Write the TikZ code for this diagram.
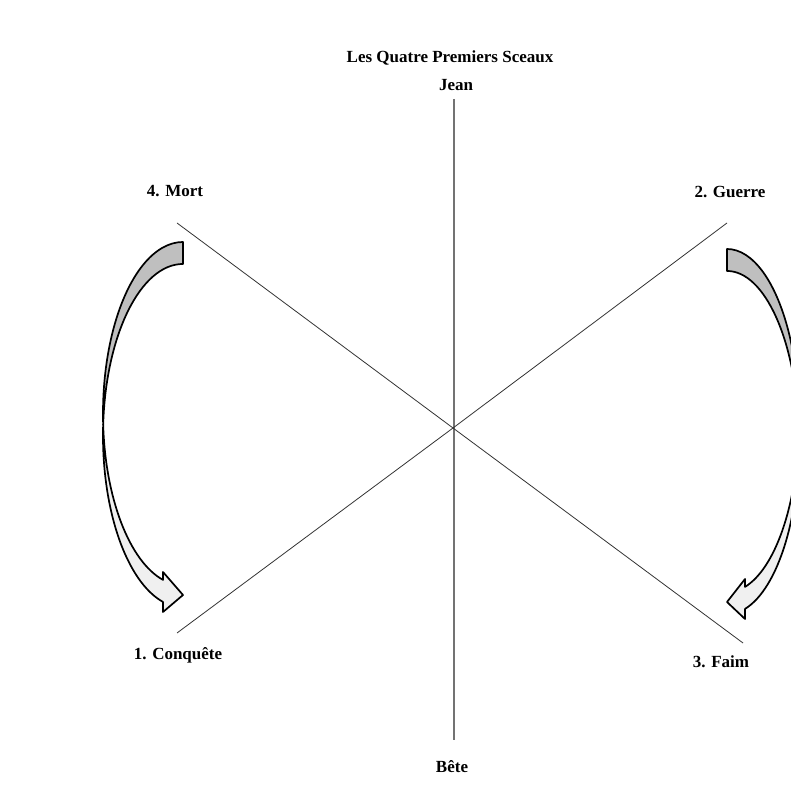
\documentclass[tikz,border=0pt]{standalone}
\usepackage{fontspec}
\setmainfont{Liberation Serif}
\usepackage{tikz}
\usetikzlibrary{calc, positioning}

\begin{document}
\begin{tikzpicture}[x=1pt, y=1pt,
    lbl/.style={font=\bfseries\fontsize{17}{19}\selectfont, inner sep=1pt},
    axe/.style={draw=black!80, line width=0.8pt},
    arrback/.style={fill=gray!50, draw=black, line width=1.7pt, line join=round},
    arrfront/.style={fill=gray!12, draw=black, line width=1.7pt, line join=round}]
    \useasboundingbox (0,0) rectangle (791,794);
    \clip (0,0) rectangle (791,794);

    % Titre et étiquettes
    \node[lbl] (title) at (450,736) {Les Quatre Premiers Sceaux};
    \node[lbl] (jean) at (456,709) {Jean};
    \node[lbl] (bete) at (452,27) {Bête};
    \node[lbl] (mort) at (175,603) {4. Mort};
    \node[lbl] (guerre) at (730,602) {2. Guerre};
    \node[lbl] (conquete) at (178,139) {1. Conquête};
    \node[lbl] (faim) at (721,132) {3. Faim};

    % Les trois axes
    \coordinate (o) at (453,366);
    \coordinate (jeanEnd) at (454,695);
    \coordinate (beteEnd) at (454,54);
    \coordinate (mortEnd) at (177,571);
    \coordinate (faimEnd) at (743,151);
    \coordinate (guerreEnd) at (727,571);
    \coordinate (conqueteEnd) at (177,161);
    \draw[draw=black!55, line width=1.4pt] (jeanEnd) -- (beteEnd);
    \draw[axe] (mortEnd) -- (o) -- (faimEnd);
    \draw[axe] (guerreEnd) -- (o) -- (conqueteEnd);

    % Flèches courbes
    \foreach \sx/\dx/\dy in {1/183/380.3, -0.9/727/373.3} {
        \begin{scope}[shift={(\dx,\dy)}, xscale=\sx]
            \path[arrback] (0,171.7)
                arc[start angle=90, end angle=183.67, x radius=80, y radius=171.7]
                arc[start angle=176.33, end angle=90, x radius=80, y radius=171.7]
                -- cycle;
            \path[arrfront] (-79.84,-11)
                arc[start angle=176.33, end angle=255.52, x radius=80, y radius=171.7]
                -- (-20,-198.3) -- (0,-181.3) -- (-20,-158.3) -- (-20,-166.2)
                arc[start angle=255.52, end angle=183.67, x radius=80, y radius=171.7]
                -- cycle;
        \end{scope}
    }
\end{tikzpicture}
\end{document}
